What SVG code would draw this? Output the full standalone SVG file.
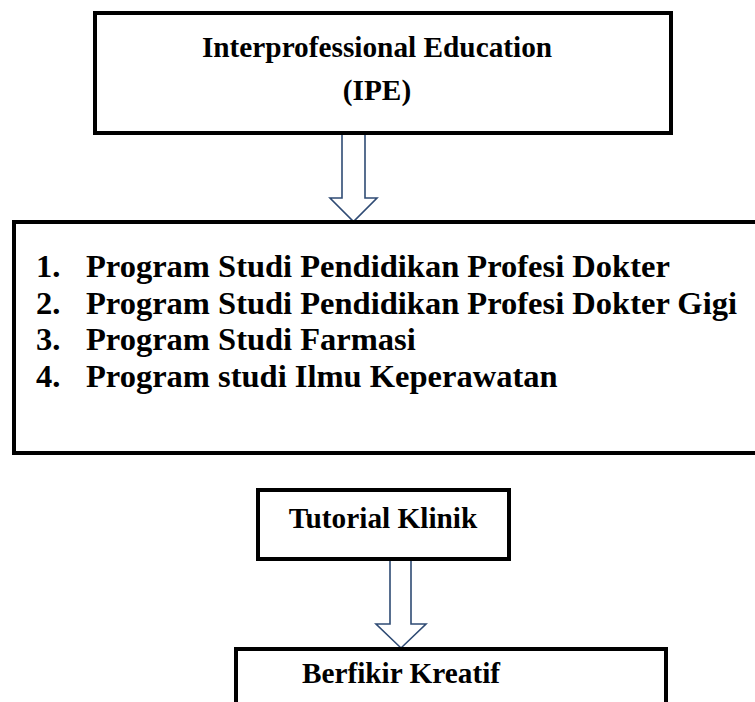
<svg xmlns="http://www.w3.org/2000/svg" width="755" height="702" viewBox="0 0 755 702">
<style>
.box{fill:#fff;stroke:#000;stroke-width:4}
.arrow{fill:#fff;stroke:#2F4B74;stroke-width:1.6;stroke-linejoin:miter}
.t{font-family:"Liberation Serif","Times New Roman",serif;font-weight:bold;fill:#000}
.c{text-anchor:middle;font-size:29.3px}
.l{font-size:32.5px}
</style>
<rect width="755" height="702" fill="#fff"/>
<g id="connectors">
<polygon class="arrow" points="342,133 342,198 330,198 353.5,221.5 377,198 365,198 365,133"/>
<polygon class="arrow" points="390,559 390,624 376,624 401,648 426,624 411,624 411,559"/>
</g>
<g id="ipe">
<rect class="box" x="95" y="13" width="576" height="120"/>
<text class="t c" x="377" y="57">Interprofessional Education</text>
<text class="t c" x="377" y="100">(IPE)</text>
</g>
<g id="programs">
<rect class="box" x="14" y="222" width="750" height="231"/>
<text class="t l" x="36" y="277">1.</text>
<text class="t l" x="86" y="277">Program Studi Pendidikan Profesi Dokter</text>
<text class="t l" x="36" y="313.5">2.</text>
<text class="t l" x="86" y="313.5">Program Studi Pendidikan Profesi Dokter Gigi</text>
<text class="t l" x="36" y="350">3.</text>
<text class="t l" x="86" y="350">Program Studi Farmasi</text>
<text class="t l" x="36" y="386.5">4.</text>
<text class="t l" x="86" y="386.5">Program studi Ilmu Keperawatan</text>
</g>
<g id="tutorial">
<rect class="box" x="258" y="490" width="251" height="69"/>
<text class="t c" x="383" y="528">Tutorial Klinik</text>
</g>
<g id="kreatif">
<rect class="box" x="236" y="649" width="430" height="80"/>
<text class="t c" x="401" y="683">Berfikir Kreatif</text>
</g>
</svg>
